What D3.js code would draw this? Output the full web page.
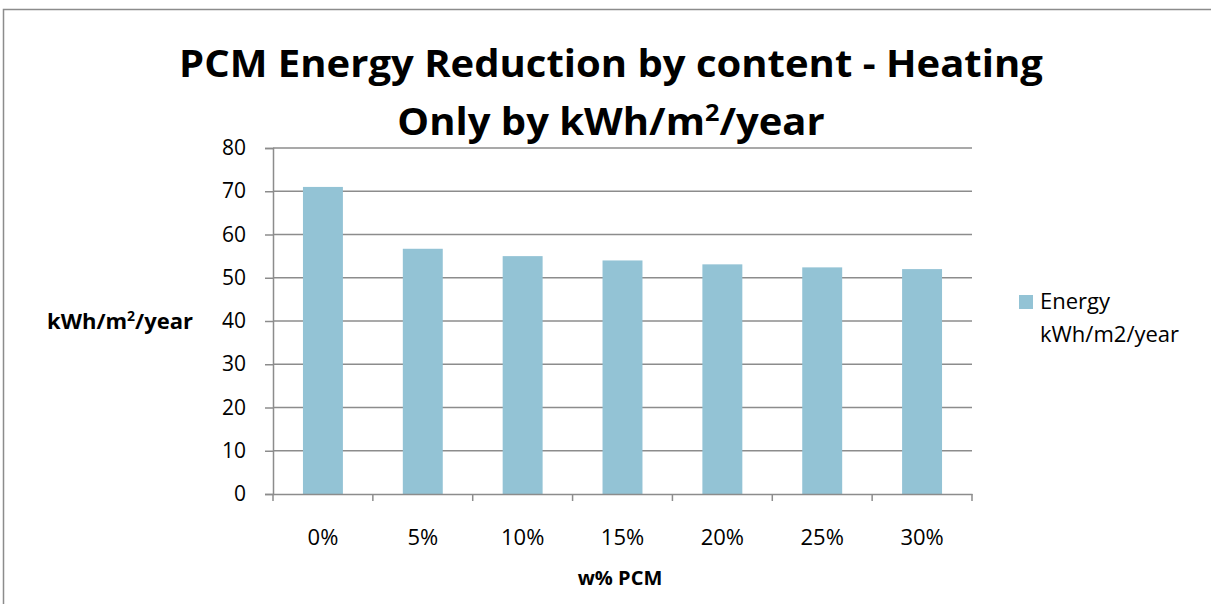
<!DOCTYPE html>
<html>
<head>
<meta charset="utf-8">
<script src="https://cdn.jsdelivr.net/npm/d3@7"></script>
<style>
  body { margin: 0; background: #fff; }
  text { font-family: "Open Sans", Lato, sans-serif; fill: #000; }
</style>
</head>
<body>
<div id="chart"></div>
<script>
// data
var categories = ["0%", "5%", "10%", "15%", "20%", "25%", "30%"];
var energy = [71.0, 56.7, 55.0, 54.0, 53.1, 52.4, 52.0];
var yTicks = [0, 10, 20, 30, 40, 50, 60, 70, 80];
var seriesName = ["Energy", "kWh/m2/year"];

var width = 1211, height = 604;
var margin = {top: 148, right: 239, bottom: 110, left: 273};

var svg = d3.select("#chart").append("svg")
    .attr("width", width)
    .attr("height", height);

// chart area border (only top and left show)
svg.append("path")
    .attr("d", "M3.5,604 V9.5 H1211")
    .attr("fill", "none")
    .attr("stroke", "#8c8c8c")
    .attr("stroke-width", 1.5);

var x = d3.scaleBand()
    .domain(categories)
    .range([margin.left, width - margin.right])
    .paddingInner(0.6)
    .paddingOuter(0.3);

var y = d3.scaleLinear()
    .domain([0, 80])
    .range([height - margin.bottom, margin.top]);

// gridlines
svg.append("g")
  .selectAll("line")
  .data(yTicks.slice(1))
  .join("line")
    .attr("x1", margin.left)
    .attr("x2", width - margin.right)
    .attr("y1", d => y(d))
    .attr("y2", d => y(d))
    .attr("stroke", "#8c8c8c")
    .attr("stroke-width", 1.5);

// bars
svg.append("g")
  .selectAll("rect")
  .data(energy)
  .join("rect")
    .attr("x", (d, i) => x(categories[i]))
    .attr("y", d => y(d))
    .attr("width", x.bandwidth())
    .attr("height", d => y(0) - y(d))
    .attr("fill", "#93c3d5");

// y axis
var yAxis = svg.append("g")
    .attr("transform", "translate(" + margin.left + ",0)")
    .call(d3.axisLeft(y).tickValues(yTicks).tickSize(8).tickPadding(19));
yAxis.selectAll("text").style("font-size", "21px").attr("fill", "#000");

// x axis, ticks sit on category boundaries
var xAxis = svg.append("g")
    .attr("transform", "translate(0," + y(0) + ")")
    .call(d3.axisBottom(x).tickSize(0).tickPadding(35));
xAxis.selectAll("text").style("font-size", "22px").attr("fill", "#000");
var step = x.step();
xAxis.selectAll(".bound")
  .data(d3.range(categories.length + 1))
  .join("line")
    .attr("x1", i => margin.left + i * step)
    .attr("x2", i => margin.left + i * step)
    .attr("y1", 0)
    .attr("y2", 7)
    .attr("stroke", "#8c8c8c")
    .attr("stroke-width", 1.5);
svg.selectAll(".domain").attr("stroke", "#8c8c8c").attr("stroke-width", 1.5);
svg.selectAll(".tick line").attr("stroke", "#8c8c8c").attr("stroke-width", 1.5);

// title, stretched sideways to the width of the original
var cx = 611;
var title = svg.append("text")
    .attr("text-anchor", "middle")
    .style("font-size", "38px")
    .style("font-weight", "bold");
var t1 = title.append("tspan")
    .attr("x", cx).attr("y", 77)
    .text("PCM Energy Reduction by content - Heating");
var t2 = title.append("tspan")
    .attr("x", cx).attr("y", 135);
t2.append("tspan").text("Only by kWh/m");
t2.append("tspan").text("2").attr("dy", -14).style("font-size", "24px");
t2.append("tspan").text("/year").attr("dy", 14);
var sx = 864 / t1.node().getComputedTextLength();
title.attr("transform", "translate(" + cx + ",0) scale(" + sx + ",1) translate(" + (-cx) + ",0)");

// y axis title
var yt = svg.append("text")
    .attr("x", 120).attr("y", 329)
    .attr("text-anchor", "middle")
    .style("font-size", "22px")
    .style("font-weight", "bold");
yt.append("tspan").text("kWh/m");
yt.append("tspan").text("2").attr("dy", -8).style("font-size", "14px");
yt.append("tspan").text("/year").attr("dy", 8);

// x axis title
svg.append("text")
    .attr("x", 620).attr("y", 585)
    .attr("text-anchor", "middle")
    .style("font-size", "20px")
    .style("font-weight", "bold")
    .text("w% PCM");

// legend
var legend = svg.append("g").attr("transform", "translate(1019,295)");
legend.append("rect")
    .attr("width", 14).attr("height", 14)
    .attr("fill", "#93c3d5");
legend.selectAll(".lab")
  .data(seriesName)
  .join("text")
    .attr("x", 21)
    .attr("y", (d, i) => 14 + i * 33)
    .style("font-size", "22px")
    .text(d => d);
</script>
</body>
</html>
